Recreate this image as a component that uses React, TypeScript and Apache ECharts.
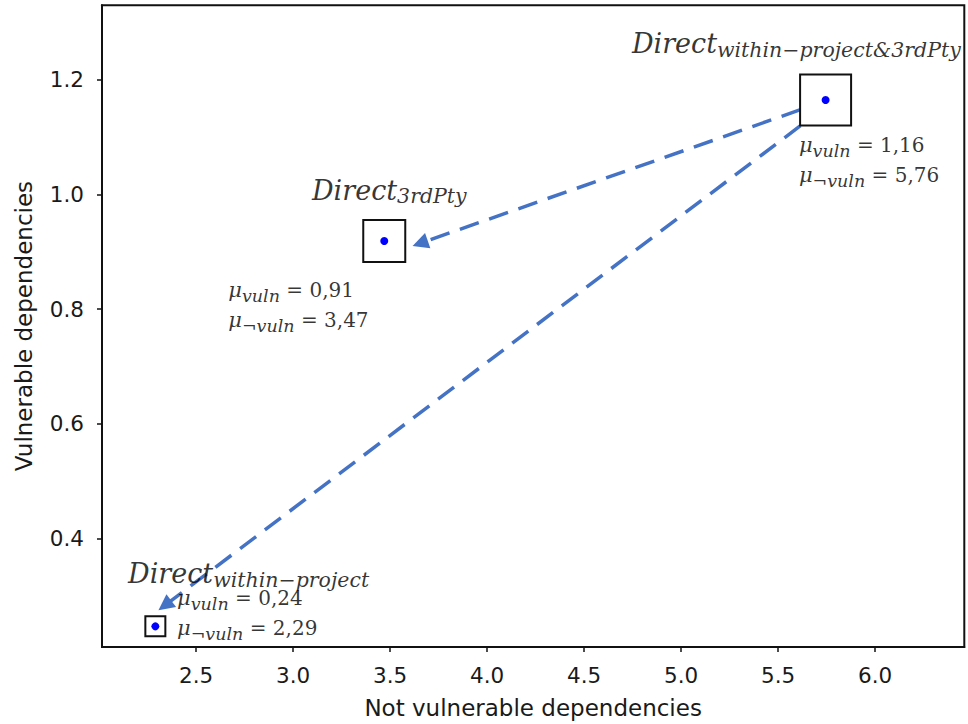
import React, { useEffect, useRef } from "react";
import * as echarts from "echarts";

// ---- data ----
const groups = ["within\u2212project", "3rdPty", "within\u2212project&3rdPty"];
const notVulnerable = [2.29, 3.47, 5.745];
const vulnerable = [0.247, 0.919, 1.165];
const muVulnText = ["0,24", "0,91", "1,16"];
const muNotVulnText = ["2,29", "3,47", "5,76"];
const markerSizes = [20, 42, 51];
const arrowStart = [
  [5.6155, 1.148],
  [5.6155, 1.12],
];
const arrowEnd = [
  [3.655, 0.915],
  [2.339, 0.2835],
];
const xTicks = [2.5, 3.0, 3.5, 4.0, 4.5, 5.0, 5.5, 6.0];
const yTicks = [0.4, 0.6, 0.8, 1.0, 1.2];

// label offsets in pixels, relative to each point (title, mu-block)
const titleOffsets = [
  [-27.3, -68.5],
  [-72.3, -66.5],
  [-193.7, -72.3],
];
const muOffsets = [
  [21.7, -43.5],
  [-156, 34.1],
  [-26.7, 30.1],
];

const SERIF = "DejaVu Serif";
const SANS = "DejaVu Sans";
const TXT = "#000";

const rich = {
  d: { fontFamily: SERIF, fontStyle: "italic", fontSize: 27, lineHeight: 32, verticalAlign: "middle", color: TXT },
  s: { fontFamily: SERIF, fontStyle: "italic", fontSize: 20.5, lineHeight: 17, verticalAlign: "bottom", color: TXT },
  m: { fontFamily: SERIF, fontStyle: "italic", fontSize: 21, lineHeight: 30, verticalAlign: "middle", color: TXT },
  v: { fontFamily: SERIF, fontStyle: "italic", fontSize: 17.5, lineHeight: 18, verticalAlign: "bottom", color: TXT },
  e: { fontFamily: SERIF, fontSize: 20, lineHeight: 30, verticalAlign: "middle", color: TXT },
};

export default function App() {
  const ref = useRef<HTMLDivElement>(null);
  useEffect(() => {
    if (!ref.current) return;
    const chart = echarts.init(ref.current, null, { renderer: "svg" });
    const pts = notVulnerable.map((x, i) => [x, vulnerable[i]]);
    const axisCommon = {
      axisLine: { show: true, onZero: false, lineStyle: { color: "#111", width: 2 } },
      axisTick: { show: true, length: 5, lineStyle: { color: "#111", width: 1.5 } },
      splitLine: { show: false },
      nameLocation: "middle",
      nameTextStyle: { fontFamily: SANS, fontSize: 23, color: "#1a1a1a" },
    };
    chart.setOption({
      animation: false,
      backgroundColor: "#fff",
      grid: {
        left: 102,
        top: 5.3,
        right: 3.7,
        bottom: 76.3,
        show: true,
        borderColor: "#111",
        borderWidth: 2,
        containLabel: false,
      },
      xAxis: {
        type: "value",
        min: 2.015,
        max: 6.46,
        name: "Not vulnerable dependencies",
        nameGap: 49,
        ...axisCommon,
        axisTick: { ...axisCommon.axisTick, customValues: xTicks },
        axisLabel: {
          customValues: xTicks,
          formatter: (v: number) => v.toFixed(1),
          fontFamily: SANS,
          fontSize: 21.5,
          color: "#1a1a1a",
          margin: 17,
        },
      },
      yAxis: {
        type: "value",
        min: 0.211,
        max: 1.33,
        name: "Vulnerable dependencies",
        nameGap: 67,
        ...axisCommon,
        axisTick: { ...axisCommon.axisTick, customValues: yTicks },
        axisLabel: {
          customValues: yTicks,
          formatter: (v: number) => v.toFixed(1),
          fontFamily: SANS,
          fontSize: 21.5,
          color: "#1a1a1a",
          margin: 18,
        },
      },
      series: [
        {
          type: "lines",
          coordinateSystem: "cartesian2d",
          silent: true,
          z: 3,
          symbol: ["none", "triangle"],
          symbolSize: 16,
          lineStyle: { color: "#4472C4", width: 3.5, type: [20, 11], opacity: 1 },
          data: arrowStart.map((s, i) => ({ coords: [s, arrowEnd[i]] })),
        },
        {
          type: "scatter",
          silent: true,
          z: 4,
          symbol: "rect",
          itemStyle: { color: "rgba(255,255,255,0)", borderColor: "#111", borderWidth: 2, opacity: 1 },
          data: pts.map((p, i) => ({ value: p, symbolSize: markerSizes[i] })),
        },
        {
          type: "scatter",
          silent: true,
          z: 5,
          symbol: "circle",
          symbolSize: 8,
          itemStyle: { color: "#0000ff", opacity: 1 },
          data: pts,
        },
        {
          type: "scatter",
          silent: true,
          z: 6,
          symbolSize: 2,
          itemStyle: { color: "rgba(0,0,0,0)" },
          data: pts.map((p, i) => ({
            value: p,
            label: {
              show: true,
              position: [titleOffsets[i][0] + 1, titleOffsets[i][1] + 1],
              align: "left",
              verticalAlign: "top",
              formatter: `{d|Direct}{s|${groups[i]}}`,
              rich,
            },
          })),
        },
        {
          type: "scatter",
          silent: true,
          z: 6,
          symbolSize: 2,
          itemStyle: { color: "rgba(0,0,0,0)" },
          data: pts.map((p, i) => ({
            value: p,
            label: {
              show: true,
              position: [muOffsets[i][0] + 1, muOffsets[i][1] + 1],
              align: "left",
              verticalAlign: "top",
              formatter: `{m|\u03bc}{v|vuln}{e| = ${muVulnText[i]}}\n{m|\u03bc}{v|\u00acvuln}{e| = ${muNotVulnText[i]}}`,
              rich,
            },
          })),
        },
      ],
    });
    return () => chart.dispose();
  }, []);
  return (
    <div
      ref={ref}
      style={{ position: "fixed", left: 0, top: 0, width: 968, height: 724 }}
    />
  );
}
